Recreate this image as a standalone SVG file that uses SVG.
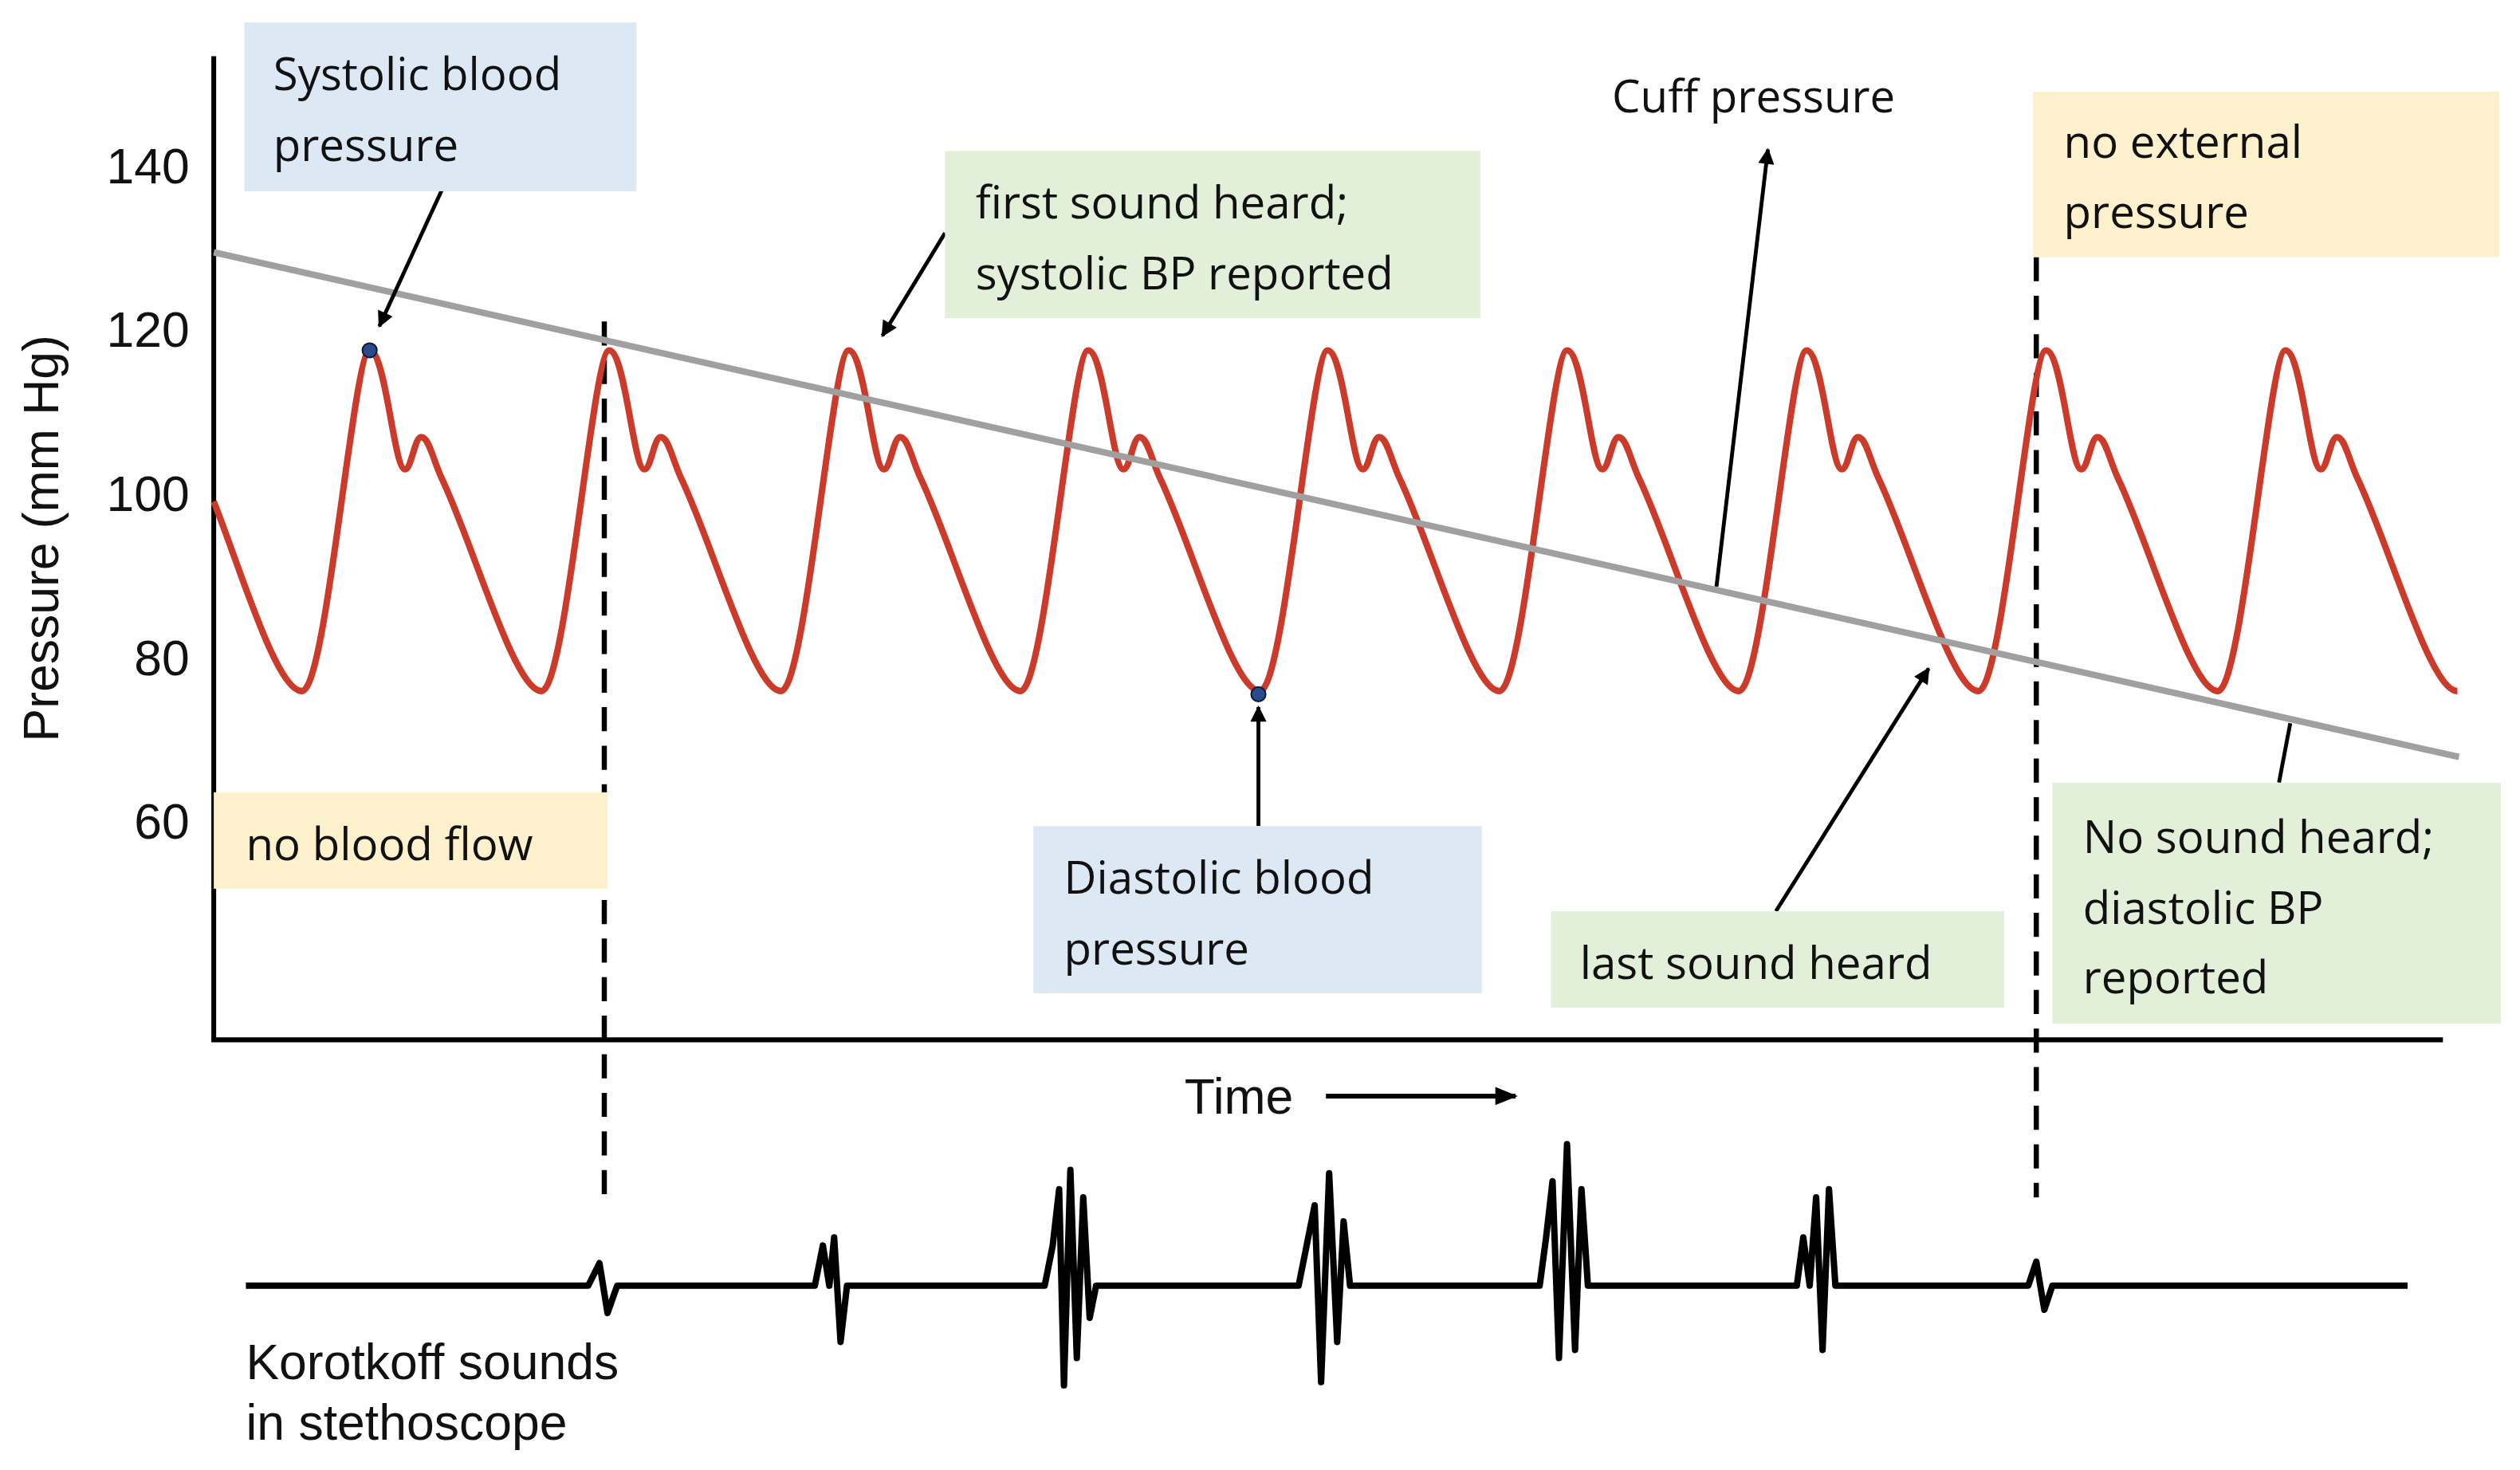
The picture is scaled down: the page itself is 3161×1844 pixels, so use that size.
<svg xmlns="http://www.w3.org/2000/svg" width="3161" height="1844" viewBox="0 0 3161 1844">
<style>
.t{font-family:"Open Sans","Liberation Sans",Arial,sans-serif;font-size:28px;fill:#111}
.ax{font-family:"Liberation Sans",Arial,sans-serif;font-size:31px;fill:#111}
.arr{stroke:#000;stroke-width:2.4;fill:none}
</style>
<defs>
<marker id="ah" viewBox="0 0 10 10" refX="9" refY="5" markerWidth="11" markerHeight="10" orient="auto" markerUnits="userSpaceOnUse"><path d="M0,0L10,5L0,10z" fill="#000"/></marker>
<marker id="ah2" viewBox="0 0 10 10" refX="9" refY="5" markerWidth="16" markerHeight="14" orient="auto" markerUnits="userSpaceOnUse"><path d="M0,1L10,5L0,9z" fill="#000"/></marker>
</defs>
<rect width="3161" height="1844" fill="#fff"/>
<g transform="scale(2.016)">
<g id="axes">
<path d="M133,35V647H1520" stroke="#000" stroke-width="3" fill="none"/>
<text class="ax" x="118" y="114" text-anchor="end">140</text>
<text class="ax" x="118" y="216" text-anchor="end">120</text>
<text class="ax" x="118" y="318" text-anchor="end">100</text>
<text class="ax" x="118" y="420" text-anchor="end">80</text>
<text class="ax" x="118" y="522" text-anchor="end">60</text>
<text class="ax" transform="translate(36,335) rotate(-90)" text-anchor="middle" font-size="32">Pressure (mm Hg)</text>
<text class="ax" x="737" y="693">Time</text>
<line x1="825" y1="682" x2="943" y2="682" stroke="#000" stroke-width="3" marker-end="url(#ah2)"/>
<text class="ax" x="153" y="858">Korotkoff sounds</text>
<text class="ax" x="153" y="896">in stethoscope</text>
</g>
<g id="dashes" stroke="#000" stroke-width="3.2" stroke-dasharray="15,9">
<line x1="376" y1="200" x2="376" y2="745"/>
<line x1="1267" y1="160" x2="1267" y2="745"/>
</g>
<path id="wave" d="M133,312 C150,355 172,430 188,430 c15,0 32,-212 42,-212 c10,0 15,74 22,74 c4,0 6,-20 10,-20 c5,0 7,13 13,26 c20,42 45,132 62,132 c15,0 32,-212 42,-212 c10,0 15,74 22,74 c4,0 6,-20 10,-20 c5,0 7,13 13,26 c20,42 45,132 62,132 c15,0 32,-212 42,-212 c10,0 15,74 22,74 c4,0 6,-20 10,-20 c5,0 7,13 13,26 c20,42 45,132 62,132 c15,0 32,-212 42,-212 c10,0 15,74 22,74 c4,0 6,-20 10,-20 c5,0 7,13 13,26 c20,42 45,132 62,132 c15,0 32,-212 42,-212 c10,0 15,74 22,74 c4,0 6,-20 10,-20 c5,0 7,13 13,26 c20,42 45,132 62,132 c15,0 32,-212 42,-212 c10,0 15,74 22,74 c4,0 6,-20 10,-20 c5,0 7,13 13,26 c20,42 45,132 62,132 c15,0 32,-212 42,-212 c10,0 15,74 22,74 c4,0 6,-20 10,-20 c5,0 7,13 13,26 c20,42 45,132 62,132 c15,0 32,-212 42,-212 c10,0 15,74 22,74 c4,0 6,-20 10,-20 c5,0 7,13 13,26 c20,42 45,132 62,132 c15,0 32,-212 42,-212 c10,0 15,74 22,74 c4,0 6,-20 10,-20 c5,0 7,13 13,26 c20,42 45,132 62,132" stroke="#cc3a2a" stroke-width="4" fill="none"/>
<line id="cuff" x1="133" y1="157" x2="1530" y2="471" stroke="#a0a0a0" stroke-width="4"/>
<circle cx="230" cy="218" r="4.5" fill="#2a4a8a" stroke="#0a1a3a" stroke-width="1"/>
<circle cx="783" cy="432" r="4.5" fill="#2a4a8a" stroke="#0a1a3a" stroke-width="1"/>
<polyline id="korotkoff" fill="none" stroke="#000" stroke-width="4" stroke-linejoin="round" points="153,800 366,800 373,786 378,817 384,800 507,800 512,775 516,800 519,770 523,835 527,800 650,800 655,775 659,740 662,862 666,728 670,845 674,745 678,820 682,800 808,800 812,780 818,750 822,860 827,730 832,835 836,760 840,800 958,800 962,770 966,735 970,845 975,712 980,840 984,740 988,800 1118,800 1122,770 1126,800 1130,745 1134,840 1138,740 1142,800 1262,800 1267,785 1272,815 1277,800 1498,800"/>
<g id="connectors">
<line class="arr" x1="275" y1="118" x2="236" y2="203" marker-end="url(#ah)"/>
<line class="arr" x1="588" y1="145" x2="549" y2="209" marker-end="url(#ah)"/>
<line class="arr" x1="1068" y1="365" x2="1100" y2="93" marker-end="url(#ah)"/>
<line class="arr" x1="783" y1="514" x2="783" y2="440" marker-end="url(#ah)"/>
<line class="arr" x1="1105" y1="567" x2="1200" y2="416" marker-end="url(#ah)"/>
<line class="arr" x1="1418" y1="487" x2="1425" y2="450"/>
</g>
<g id="n-systolic"><rect x="152" y="14" width="244" height="105" fill="#dce8f4"/><text class="t" x="170" y="56">Systolic blood</text><text class="t" x="170" y="100">pressure</text></g>
<g id="n-first"><rect x="588" y="94" width="333" height="104" fill="#e2efd9"/><text class="t" x="607" y="136">first sound heard;</text><text class="t" x="607" y="180">systolic BP reported</text></g>
<g id="n-cuff"><text class="t" x="1003" y="70">Cuff pressure</text></g>
<g id="n-noext"><rect x="1265" y="57" width="290" height="103" fill="#fdf0cc"/><text class="t" x="1284" y="98">no external</text><text class="t" x="1284" y="142">pressure</text></g>
<g id="n-noflow"><rect x="133" y="493" width="245" height="60" fill="#fdf0cc"/><text class="t" x="153" y="535">no blood flow</text></g>
<g id="n-diastolic"><rect x="643" y="514" width="279" height="104" fill="#dce8f4"/><text class="t" x="662" y="556">Diastolic blood</text><text class="t" x="662" y="600">pressure</text></g>
<g id="n-last"><rect x="965" y="567" width="282" height="60" fill="#e2efd9"/><text class="t" x="983" y="609">last sound heard</text></g>
<g id="n-nosound"><rect x="1277" y="487" width="279" height="150" fill="#e2efd9"/><text class="t" x="1296" y="531">No sound heard;</text><text class="t" x="1296" y="575">diastolic BP</text><text class="t" x="1296" y="618">reported</text></g>
</g>
</svg>
